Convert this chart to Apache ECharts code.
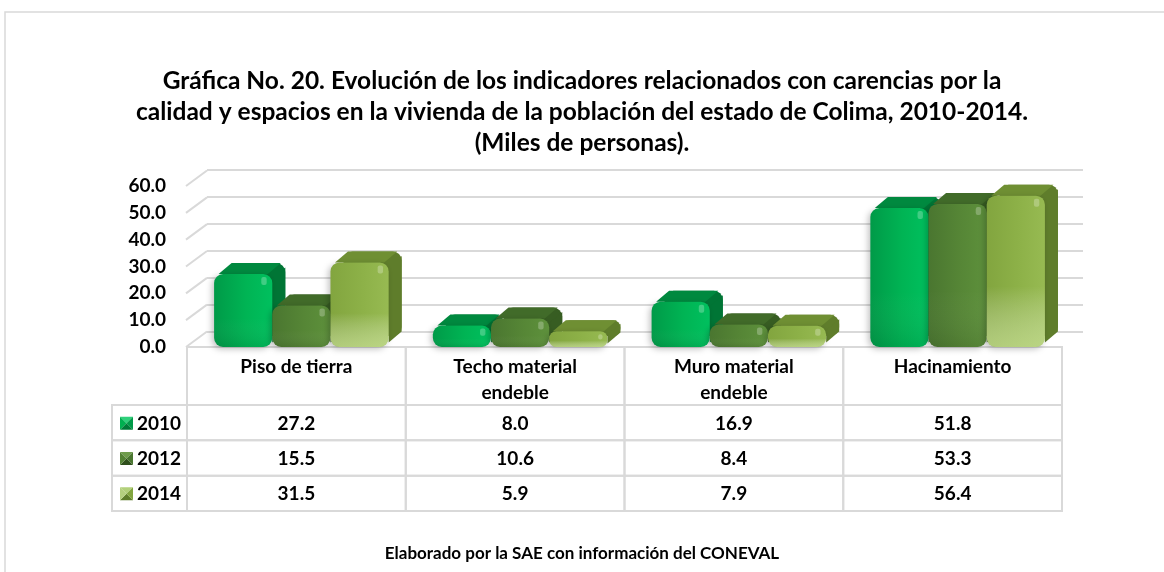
<!DOCTYPE html>
<html><head><meta charset="utf-8">
<script src="https://cdn.jsdelivr.net/npm/echarts@6/dist/echarts.min.js"></script>
<style>html,body{margin:0;padding:0;background:#fff}#c{width:1164px;height:572px}</style>
</head><body><div id="c"></div>
<script>
const titleText = 'Gráfica No. 20. Evolución de los indicadores relacionados con carencias por la\ncalidad y espacios en la vivienda de la población del estado de Colima, 2010-2014.\n(Miles de personas).';
const footerText = 'Elaborado por la SAE con información del CONEVAL';
const categories = ['Piso de tierra', 'Techo material\nendeble', 'Muro material\nendeble', 'Hacinamiento'];
const years = ['2010', '2012', '2014'];
const values2010 = [27.2, 8.0, 16.9, 51.8];
const values2012 = [15.5, 10.6, 8.4, 53.3];
const values2014 = [31.5, 5.9, 7.9, 56.4];
const yTicks = [0, 10, 20, 30, 40, 50, 60];

const FONT = 'Lato, "Noto Sans", sans-serif';
const FS = 19;
const GRID_C = '#d9d9d9';
const seriesValues = [values2010, values2012, values2014];
const palette = [
  { f0: '#009a48', f1: '#00b454', f2: '#00c05e', fb: '#00b050', top: '#00893f', side: '#007535', k1: '#2ed07a', k2: '#007a38' },
  { f0: '#4a7630', f1: '#568636', f2: '#5e913c', fb: '#548235', top: '#416b29', side: '#375d22', k1: '#6f9c4c', k2: '#2f4f1c' },
  { f0: '#82a53f', f1: '#8db148', f2: '#97ba52', fb: '#b4d07e', top: '#6f8f33', side: '#5f7d2b', k1: '#b2d07a', k2: '#5e7d2a' }
];

function barRender(s) {
  return function (params, api) {
    const ci = api.value(0), v = api.value(1);
    const pt = api.coord([ci, v]);
    const base = api.coord([ci, 0]);
    const band = api.size([1, 0])[0];
    const bw = band * 0.266;
    const x0 = pt[0] - 1.5 * bw + 5 + s * bw;
    const yT = pt[1], yB = base[1];
    const h = yB - yT;
    const dx = 13, dy = -11;
    const r = Math.max(2, Math.min(9, h / 2.2));
    const p = palette[s];
    const frontFill = new echarts.graphic.LinearGradient(0, 0, 1, 0, [
      { offset: 0, color: p.f0 }, { offset: 0.55, color: p.f1 }, { offset: 1, color: p.f2 }
    ]);
    const frontV = new echarts.graphic.LinearGradient(0, 0, 0, 1, [
      { offset: 0, color: 'rgba(255,255,255,0)' }, { offset: 0.6, color: 'rgba(255,255,255,0)' },
      { offset: 1, color: s === 2 ? 'rgba(215,235,170,0.55)' : 'rgba(0,0,0,0.08)' }
    ]);
    return {
      type: 'group',
      children: [
        { type: 'rect', shape: { x: x0 + dx, y: yT + dy, width: bw, height: h, r: r }, style: { fill: p.side } },
        { type: 'polygon', shape: { points: [[x0 + r * 0.5, yT], [x0 + dx + r * 0.5, yT + dy], [x0 + bw + dx - r * 0.5, yT + dy], [x0 + bw - r * 0.5, yT]] }, style: { fill: p.top } },
        { type: 'polygon', shape: { points: [[x0 + bw, yT + r * 0.5], [x0 + bw + dx, yT + dy + r * 0.5], [x0 + bw + dx, yB + dy - r * 0.5], [x0 + bw, yB - r * 0.5]] }, style: { fill: p.side } },
        { type: 'rect', shape: { x: x0, y: yT, width: bw, height: h, r: r }, style: { fill: frontFill, shadowBlur: 6, shadowColor: 'rgba(0,0,0,0.25)', shadowOffsetX: -2, shadowOffsetY: 2 } },
        { type: 'rect', shape: { x: x0, y: yT, width: bw, height: h, r: r }, style: { fill: frontV } },
        { type: 'rect', shape: { x: x0 + bw - r - 2, y: yT + 3, width: Math.max(3, r * 0.6), height: Math.max(2, Math.min(8, h / 3)), r: 2 }, style: { fill: 'rgba(255,255,255,0.25)' } }
      ]
    };
  };
}

function keyIcon(x, y, s) {
  const p = palette[s], w = 13;
  const cx = x + w / 2, cy = y + w / 2;
  return [
    { type: 'polygon', shape: { points: [[x, y], [x + w, y], [cx, cy]] }, style: { fill: p.k1 } },
    { type: 'polygon', shape: { points: [[x, y + w], [x + w, y + w], [cx, cy]] }, style: { fill: p.k2 } },
    { type: 'polygon', shape: { points: [[x, y], [x, y + w], [cx, cy]] }, style: { fill: p.fb } },
    { type: 'polygon', shape: { points: [[x + w, y], [x + w, y + w], [cx, cy]] }, style: { fill: p.f0 } }
  ];
}

const tableData = [];
seriesValues.forEach((arr, ri) => arr.forEach((v, ci) => tableData.push([ci, ri, v])));

const chart = echarts.init(document.getElementById('c'), null, { renderer: 'canvas' });
chart.setOption({
  backgroundColor: '#fff',
  animation: false,
  title: [
    { text: titleText, left: 'center', top: 61,
      textStyle: { fontFamily: FONT, fontSize: 24.5, fontWeight: 'bold', color: '#000', lineHeight: 31, align: 'center' } },
    { text: footerText, left: 'center', top: 540,
      textStyle: { fontFamily: FONT, fontSize: 17, fontWeight: 'bold', color: '#000' } }
  ],
  graphic: [
    { type: 'rect', shape: { x: 5, y: 12, width: 1200, height: 620 }, style: { fill: 'none', stroke: GRID_C, lineWidth: 1.5 }, z: -10 }
  ],
  grid: [
    { left: 187, right: 102, top: 186, height: 161 },
    { left: 187, right: 102, top: 405, height: 106 },
    { left: 207, right: 81, top: 170, height: 162, z: -1 }
  ],
  xAxis: [
    { gridIndex: 0, type: 'category', data: categories, show: false },
    { gridIndex: 1, type: 'category', data: categories, show: false },
    { gridIndex: 2, type: 'category', data: categories, show: false }
  ],
  yAxis: [
    { gridIndex: 0, type: 'value', min: 0, max: 60, interval: 10,
      axisLine: { show: false }, axisTick: { show: false }, splitLine: { show: false },
      axisLabel: { margin: 21, formatter: v => v.toFixed(1), fontFamily: FONT, fontSize: FS, fontWeight: 'bold', color: '#000' } },
    { gridIndex: 1, type: 'category', data: years, inverse: true, show: false },
    { gridIndex: 2, type: 'value', min: 0, max: 60, interval: 10,
      axisLine: { show: false }, axisTick: { show: false }, axisLabel: { show: false },
      splitLine: { show: true, lineStyle: { color: GRID_C, width: 2 } } }
  ],
  series: [
    { type: 'custom', xAxisIndex: 0, yAxisIndex: 0, z: 1,
      data: yTicks.map(v => [0, v]),
      renderItem: function (params, api) {
        const y = api.coord([0, api.value(1)])[1];
        const x = params.coordSys.x;
        return { type: 'line', shape: { x1: x - 1, y1: y, x2: x + 20, y2: y - 15.5 }, style: { stroke: GRID_C, lineWidth: 2 } };
      } },
    ...seriesValues.map((arr, s) => ({
      type: 'custom', name: years[s], xAxisIndex: 0, yAxisIndex: 0, z: 3,
      data: arr.map((v, i) => [i, v]),
      renderItem: barRender(s)
    })),
    { type: 'custom', xAxisIndex: 1, yAxisIndex: 1, z: 2,
      data: categories.map((c, i) => [i, 0, c]),
      renderItem: function (params, api) {
        const ci = api.value(0);
        const c = api.coord([ci, 0]);
        const w = api.size([1, 1])[0];
        const gy = params.coordSys.y;
        const x0 = c[0] - w / 2, y0 = gy - 58;
        return { type: 'group', children: [
          { type: 'rect', shape: { x: x0, y: y0, width: w, height: 58 }, style: { fill: 'none', stroke: GRID_C, lineWidth: 2 } },
          { type: 'text', x: c[0], y: y0 + 7, style: { text: categories[ci], fontFamily: FONT, fontSize: FS, fontWeight: 'bold', fill: '#000', align: 'center', verticalAlign: 'top', lineHeight: 26 } }
        ] };
      } },
    { type: 'custom', xAxisIndex: 1, yAxisIndex: 1, z: 2,
      data: tableData,
      renderItem: function (params, api) {
        const ci = api.value(0), ri = api.value(1), v = api.value(2);
        const c = api.coord([ci, ri]);
        const sz = api.size([1, 1]);
        const x0 = c[0] - sz[0] / 2, y0 = c[1] - sz[1] / 2;
        const children = [
          { type: 'rect', shape: { x: x0, y: y0, width: sz[0], height: sz[1] }, style: { fill: 'none', stroke: GRID_C, lineWidth: 2 } },
          { type: 'text', x: c[0], y: c[1] + 1, style: { text: v.toFixed(1), fontFamily: FONT, fontSize: FS, fontWeight: 'bold', fill: '#000', align: 'center', verticalAlign: 'middle' } }
        ];
        if (ci === 0) {
          const lx = x0 - 75;
          children.push({ type: 'rect', shape: { x: lx, y: y0, width: 75, height: sz[1] }, style: { fill: 'none', stroke: GRID_C, lineWidth: 2 } });
          keyIcon(lx + 8, c[1] - 6, ri).forEach(el => children.push(el));
          children.push({ type: 'text', x: lx + 25, y: c[1] + 1, style: { text: years[ri], fontFamily: FONT, fontSize: FS, fontWeight: 'bold', fill: '#000', align: 'left', verticalAlign: 'middle' } });
        }
        return { type: 'group', children: children };
      } }
  ]
});
</script>
</body></html>
